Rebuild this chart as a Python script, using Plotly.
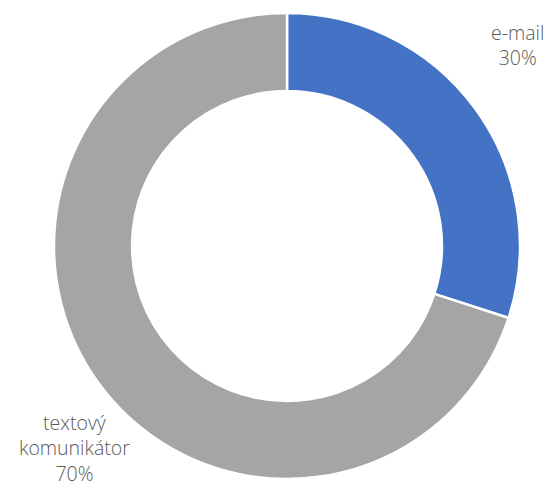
import plotly.graph_objects as go

# Share of communication channels
categories = ["e-mail", "textový komunikátor"]
values = [30, 70]
colors = ["#4472C4", "#A5A5A5"]

W, H = 555, 488
cx, cy, r = 287, 246, 233

fig = go.Figure(go.Pie(
    labels=categories,
    values=values,
    hole=0.665,
    sort=False,
    direction="clockwise",
    rotation=0,
    marker=dict(colors=colors, line=dict(color="#FFFFFF", width=2.5)),
    textinfo="none",
    hoverinfo="label+percent",
    showlegend=False,
    domain=dict(x=[(cx - r) / W, (cx + r) / W],
                y=[1 - (cy + r) / H, 1 - (cy - r) / H]),
))

total = sum(values)
# outside label placement: (x centre px, y px, vertical anchor)
label_pos = [(517, 45, "middle"), (74, 488, "bottom")]
for cat, val, (px, py, ya) in zip(categories, values, label_pos):
    text = cat.replace(" ", "<br>") + f"<br>{round(100 * val / total)}%"
    fig.add_annotation(
        x=px / W, y=1 - py / H, xref="paper", yref="paper",
        text=text, showarrow=False, align="center",
        xanchor="center", yanchor=ya, borderpad=0,
        font=dict(family="Open Sans", size=19.5, color="#595959", weight=300),
    )

fig.update_layout(
    width=W, height=H,
    margin=dict(l=0, r=0, t=0, b=0),
    paper_bgcolor="white", plot_bgcolor="white",
)

fig.write_html("out.html")
